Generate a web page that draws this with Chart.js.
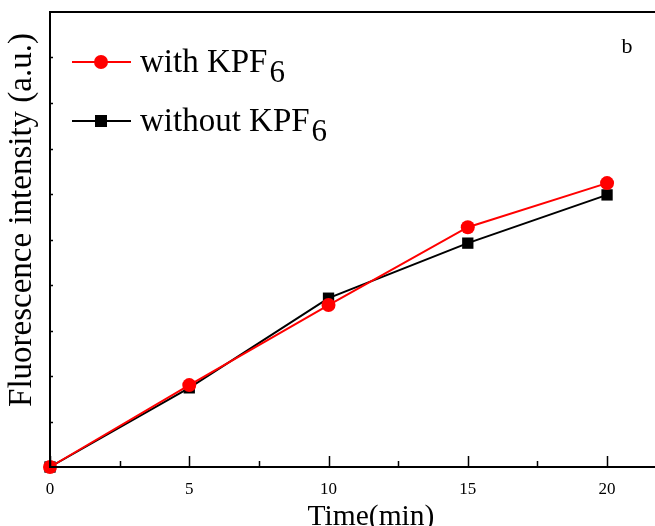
<!DOCTYPE html>
<html>
<head>
<meta charset="utf-8">
<script src="https://cdn.jsdelivr.net/npm/chart.js@4/dist/chart.umd.min.js"></script>
<style>
html,body{margin:0;padding:0;background:#fff;overflow:hidden;}
#wrap{width:700px;height:526px;position:relative;}
</style>
</head>
<body>
<div id="wrap"><canvas id="c" width="700" height="526"></canvas></div>
<script>
const times = [0, 5, 10, 15, 20];
const withKPF6 = [0, 1.80, 3.56, 5.27, 6.24];
const withoutKPF6 = [0, 1.74, 3.71, 4.92, 5.98];
const xTickValues = [0, 5, 10, 15, 20];
const seriesNames = ['with KPF', 'without KPF'];
const subscript = '6';
const yTitle = 'Fluorescence intensity (a.u.)';
const xTitle = 'Time(min)';
const panelLabel = 'b';

const FONT = '"Liberation Serif", "Times New Roman", serif';

const decor = {
  id: 'decor',
  afterDatasetsDraw(chart) {
    const ctx = chart.ctx;
    const a = chart.chartArea;
    const xs = chart.scales.x, ys = chart.scales.y;
    ctx.save();
    ctx.strokeStyle = '#000';
    ctx.lineWidth = 2;
    // frame: left, bottom, top
    ctx.beginPath();
    ctx.moveTo(a.left, a.top); ctx.lineTo(a.left, a.bottom);
    ctx.moveTo(a.left - 1, a.bottom); ctx.lineTo(chart.width, a.bottom);
    ctx.moveTo(a.left - 1, a.top); ctx.lineTo(chart.width, a.top);
    ctx.stroke();
    // x ticks inward
    ctx.lineWidth = 1.5;
    ctx.beginPath();
    for (let v = 0; v <= xs.max; v += 2.5) {
      const px = Math.round(xs.getPixelForValue(v)) + 0.5;
      const major = (v % 5 === 0);
      ctx.moveTo(px, a.bottom); ctx.lineTo(px, a.bottom - (major ? 11 : 6));
    }
    // y ticks inward
    for (let v = 1; v < ys.max; v += 1) {
      const py = Math.round(ys.getPixelForValue(v)) + 0.5;
      ctx.moveTo(a.left, py); ctx.lineTo(a.left + 3, py);
    }
    ctx.stroke();
    // y title
    ctx.fillStyle = '#000';
    ctx.font = '33px ' + FONT;
    ctx.textAlign = 'center';
    ctx.textBaseline = 'middle';
    ctx.translate(22, 220);
    ctx.rotate(-Math.PI / 2);
    ctx.fillText(yTitle, 0, 0);
    ctx.restore();

    // panel label
    ctx.save();
    ctx.fillStyle = '#000';
    ctx.font = '22px ' + FONT;
    ctx.textAlign = 'center';
    ctx.textBaseline = 'middle';
    ctx.fillText(panelLabel, 627, 47);
    ctx.restore();

    // legend
    const entries = [
      {name: seriesNames[0], color: '#ff0000', shape: 'circle', y: 62},
      {name: seriesNames[1], color: '#000000', shape: 'square', y: 121}
    ];
    ctx.save();
    entries.forEach(e => {
      ctx.strokeStyle = e.color;
      ctx.fillStyle = e.color;
      ctx.lineWidth = 2;
      ctx.beginPath();
      ctx.moveTo(72, e.y); ctx.lineTo(131, e.y);
      ctx.stroke();
      if (e.shape === 'circle') {
        ctx.beginPath(); ctx.arc(101, e.y, 7, 0, Math.PI * 2); ctx.fill();
      } else {
        ctx.fillRect(95, e.y - 6, 12, 12);
      }
      ctx.fillStyle = '#000';
      ctx.font = '33px ' + FONT;
      ctx.textAlign = 'left';
      ctx.textBaseline = 'alphabetic';
      ctx.fillText(e.name, 140, e.y + 10);
      const w = ctx.measureText(e.name).width;
      ctx.font = '31px ' + FONT;
      ctx.fillText(subscript, 140 + w + 2, e.y + 20);
    });
    ctx.restore();
  }
};

new Chart(document.getElementById('c'), {
  type: 'line',
  data: {
    datasets: [
      {
        label: seriesNames[0],
        data: times.map((t, i) => ({x: t, y: withKPF6[i]})),
        borderColor: '#ff0000',
        backgroundColor: '#ff0000',
        borderWidth: 2,
        pointStyle: 'circle',
        pointRadius: 7,
        pointBorderWidth: 0,
        tension: 0,
        clip: false
      },
      {
        label: seriesNames[1],
        data: times.map((t, i) => ({x: t, y: withoutKPF6[i]})),
        borderColor: '#000000',
        backgroundColor: '#000000',
        borderWidth: 2,
        pointStyle: 'rect',
        pointRadius: 8,
        pointBorderWidth: 0,
        tension: 0,
        clip: false
      }
    ]
  },
  options: {
    responsive: false,
    animation: false,
    devicePixelRatio: 1,
    layout: {padding: {top: 12, right: 2, left: 0, bottom: 0}},
    plugins: {legend: {display: false}, tooltip: {enabled: false}},
    scales: {
      x: {
        type: 'linear',
        min: 0,
        max: 23.05,
        afterBuildTicks: s => { s.ticks = xTickValues.map(v => ({value: v})); },
        afterFit: s => { s.height = 59; },
        grid: {display: false, drawTicks: false},
        border: {display: false},
        ticks: {color: '#000', font: {family: FONT, size: 17}, padding: 12, maxRotation: 0},
        title: {display: true, text: xTitle, color: '#000', font: {family: FONT, size: 29.5}, padding: {top: 0, bottom: -9}}
      },
      y: {
        min: 0,
        max: 10,
        afterFit: s => { s.width = 50; },
        grid: {display: false, drawTicks: false},
        border: {display: false},
        ticks: {display: false}
      }
    }
  },
  plugins: [decor]
});
</script>
</body>
</html>
